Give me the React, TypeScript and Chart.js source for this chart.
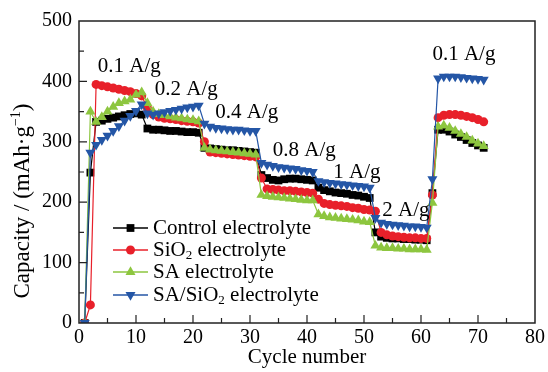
import React, { useEffect, useRef } from "react";
import { Chart, registerables } from "chart.js";
Chart.register(...registerables);

const cycles = [
  1, 2, 3, 4, 5, 6, 7, 8, 9, 10, 11, 12, 13, 14, 15, 16, 17, 18, 19, 20,
  21, 22, 23, 24, 25, 26, 27, 28, 29, 30, 31, 32, 33, 34, 35, 36, 37, 38, 39, 40,
  41, 42, 43, 44, 45, 46, 47, 48, 49, 50, 51, 52, 53, 54, 55, 56, 57, 58, 59, 60,
  61, 62, 63, 64, 65, 66, 67, 68, 69, 70, 71,
];

const controlValues = [
  0, 249, 333, 335, 338, 340, 342, 344, 346, 347, 345,
  322, 320, 320, 319, 318, 318, 317, 316, 316, 315,
  290, 289, 288, 287, 286, 286, 285, 284, 283, 282,
  245, 240, 237, 236, 238, 239, 239, 238, 237, 236,
  224, 220, 218, 216, 215, 214, 212, 211, 209, 207,
  150, 143, 141, 140, 140, 139, 139, 138, 138, 137,
  215, 320, 320, 317, 312, 308, 303, 298, 294, 290,
];

const sio2Values = [
  0, 30, 395, 393, 391, 389, 387, 385, 383, 380, 376,
  356, 345, 341, 339, 338, 337, 335, 334, 333, 331,
  300, 283, 282, 281, 280, 279, 278, 277, 276, 275,
  240, 222, 221, 220, 219, 219, 218, 217, 216, 215,
  205, 198, 196, 195, 194, 193, 191, 190, 188, 187,
  185, 150, 146, 144, 143, 142, 141, 141, 140, 140,
  212, 340, 344, 345, 345, 344, 342, 340, 337, 333,
];

const saValues = [
  0, 350, 333, 341, 350, 358, 364, 367, 370, 378, 382,
  364, 350, 346, 344, 342, 340, 339, 337, 336, 334,
  290, 287, 286, 285, 284, 283, 282, 281, 280, 279,
  212, 210, 209, 208, 207, 206, 205, 204, 203, 203,
  180, 177, 175, 174, 173, 172, 171, 170, 168, 167,
  128, 125, 124, 124, 123, 123, 122, 122, 122, 121,
  199, 325, 327, 323, 318, 313, 308, 302, 297, 293,
];

const saSio2Values = [
  0, 282, 295, 303, 310, 318, 326, 335, 343, 351, 362,
  347, 345, 347, 349, 351, 353, 355, 357, 358, 360,
  330, 325, 323, 322, 321, 320, 320, 319, 318, 318,
  265, 262, 260, 258, 257, 256, 255, 253, 252, 250,
  235, 233, 232, 231, 230, 229, 228, 227, 226, 224,
  174, 166, 164, 163, 162, 161, 160, 160, 159, 158,
  238, 405, 408, 408, 408, 407, 406, 405, 404, 403,
];

const seriesNames = [
  ["Control electrolyte"],
  ["SiO", "2", " electrolyte"],
  ["SA electrolyte"],
  ["SA/SiO", "2", " electrolyte"],
];

const rateLabels = ["0.1 A/g", "0.2 A/g", "0.4 A/g", "0.8 A/g", "1 A/g", "2 A/g", "0.1 A/g"];
const rateLabelX = [3.3, 13.3, 23.9, 34, 44.6, 53.2, 62];
const rateLabelY = [424, 386, 348, 285, 250, 186, 444];

const xTicks = [0, 10, 20, 30, 40, 50, 60, 70, 80];
const yTicks = [0, 100, 200, 300, 400, 500];

const COLORS = ["#000000", "#e8202a", "#8dc63f", "#2456a6"];
const STYLES = ["rect", "circle", "triangle", "triangle"];
const ROT = [0, 0, 0, 180];
const RADII = [5.5, 4.5, 5.8, 5.8];
const SERIF = "'Liberation Serif', 'Times New Roman', serif";

function drawMarker(ctx: CanvasRenderingContext2D, style: string, x: number, y: number, r: number, rot: number, color: string) {
  ctx.fillStyle = color;
  ctx.beginPath();
  if (style === "rect") {
    const s = Math.SQRT1_2 * r;
    ctx.rect(x - s, y - s, 2 * s, 2 * s);
  } else if (style === "circle") {
    ctx.arc(x, y, r, 0, Math.PI * 2);
  } else {
    const sgn = rot === 180 ? -1 : 1;
    const w = r * Math.sin(Math.PI / 3);
    ctx.moveTo(x, y - sgn * r);
    ctx.lineTo(x + w, y + sgn * r / 2);
    ctx.lineTo(x - w, y + sgn * r / 2);
    ctx.closePath();
  }
  ctx.fill();
}

function drawSegments(ctx: CanvasRenderingContext2D, parts: string[], x: number, y: number, size: number) {
  let cx = x;
  parts.forEach((p, i) => {
    const sub = parts.length > 1 && i === 1;
    ctx.font = `${sub ? Math.round(size * 0.62) : size}px ${SERIF}`;
    ctx.fillText(p, cx, sub ? y + size * 0.28 : y);
    cx += ctx.measureText(p).width;
  });
}

const decor = {
  id: "decor",
  afterDatasetsDraw(chart: any) {
    const { ctx, chartArea: a, scales } = chart;
    const xs = scales.x;
    const ys = scales.y;
    ctx.save();
    ctx.strokeStyle = "#222";
    ctx.lineWidth = 1.5;
    ctx.strokeRect(a.left, a.top, a.right - a.left, a.bottom - a.top);
    ctx.lineWidth = 1.2;
    ctx.beginPath();
    for (let v = 5; v < 80; v += 5) {
      const px = xs.getPixelForValue(v);
      const len = v % 10 === 0 ? 8 : 5;
      ctx.moveTo(px, a.bottom);
      ctx.lineTo(px, a.bottom - len);
    }
    for (let v = 50; v < 500; v += 50) {
      const py = ys.getPixelForValue(v);
      const len = v % 100 === 0 ? 8 : 5;
      ctx.moveTo(a.left, py);
      ctx.lineTo(a.left + len, py);
    }
    ctx.stroke();

    ctx.fillStyle = "#000";
    ctx.textBaseline = "middle";
    ctx.textAlign = "left";
    ctx.font = `21px ${SERIF}`;
    rateLabels.forEach((t, i) => {
      ctx.fillText(t, xs.getPixelForValue(rateLabelX[i]), ys.getPixelForValue(rateLabelY[i]));
    });

    const rows = [228, 250, 272, 295];
    seriesNames.forEach((parts, i) => {
      const y = rows[i];
      ctx.strokeStyle = COLORS[i];
      ctx.lineWidth = 1.3;
      ctx.beginPath();
      ctx.moveTo(113, y);
      ctx.lineTo(148, y);
      ctx.stroke();
      drawMarker(ctx, STYLES[i], 130.5, y, RADII[i], ROT[i], COLORS[i]);
      ctx.fillStyle = "#000";
      drawSegments(ctx, parts, 153, y, 21);
    });

    ctx.fillStyle = "#000";
    ctx.font = `21px ${SERIF}`;
    ctx.textAlign = "center";
    ctx.fillText("Cycle number", (a.left + a.right) / 2, 357);

    ctx.save();
    ctx.translate(23, 201);
    ctx.rotate(-Math.PI / 2);
    ctx.textAlign = "left";
    const size = 23;
    const p1 = "Capacity / (mAh\u00b7g";
    const p2 = "\u22121";
    const p3 = ")";
    ctx.font = `${size}px ${SERIF}`;
    const w1 = ctx.measureText(p1).width;
    const w3 = ctx.measureText(p3).width;
    ctx.font = `${Math.round(size * 0.62)}px ${SERIF}`;
    const w2 = ctx.measureText(p2).width;
    let sx = -(w1 + w2 + w3) / 2;
    ctx.font = `${size}px ${SERIF}`;
    ctx.fillText(p1, sx, 0);
    sx += w1;
    ctx.font = `${Math.round(size * 0.62)}px ${SERIF}`;
    ctx.fillText(p2, sx, -size * 0.3);
    sx += w2;
    ctx.font = `${size}px ${SERIF}`;
    ctx.fillText(p3, sx, 0);
    ctx.restore();

    ctx.restore();
  },
};

export default function App() {
  const ref = useRef<HTMLCanvasElement>(null);
  useEffect(() => {
    document.body.style.margin = "0";
    let chart: Chart | null = null;
    let cancelled = false;
    const build = () => {
      if (cancelled) return;
      const canvas = ref.current!;
      const all = [controlValues, sio2Values, saValues, saSio2Values];
      const labels = ["Control electrolyte", "SiO2 electrolyte", "SA electrolyte", "SA/SiO2 electrolyte"];
      chart = new Chart(canvas, {
        type: "line",
        data: {
          datasets: all.map((vals, i) => ({
            label: labels[i],
            data: cycles.map((c, k) => ({ x: c, y: vals[k] })),
            borderColor: COLORS[i],
            backgroundColor: COLORS[i],
            borderWidth: 1.2,
            pointStyle: STYLES[i] as any,
            pointRotation: ROT[i],
            pointRadius: RADII[i],
            pointBorderWidth: 0,
            pointBackgroundColor: COLORS[i],
            tension: 0,
            order: 4 - i,
          })),
        },
        options: {
          responsive: false,
          animation: false,
          layout: { padding: { top: 21, right: 13, left: 0, bottom: 0 } },
          plugins: { legend: { display: false }, tooltip: { enabled: false } },
          scales: {
            x: {
              type: "linear",
              min: 0,
              max: 80,
              afterBuildTicks: (s: any) => { s.ticks = xTicks.map((v) => ({ value: v })); },
              ticks: { color: "#000", font: { family: SERIF, size: 20 }, padding: 3, maxRotation: 0, autoSkip: false },
              grid: { display: false, drawTicks: false },
              border: { display: false },
              afterFit: (s: any) => { s.height = 49; },
            },
            y: {
              type: "linear",
              min: 0,
              max: 500,
              afterBuildTicks: (s: any) => { s.ticks = yTicks.map((v) => ({ value: v })); },
              ticks: { color: "#000", font: { family: SERIF, size: 20 }, padding: 7 },
              grid: { display: false, drawTicks: false },
              border: { display: false },
              afterFit: (s: any) => { s.width = 79; },
            },
          },
        },
        plugins: [decor],
      });
    };
    const fonts = (document as any).fonts;
    if (fonts && fonts.load) {
      Promise.all([
        fonts.load("21px 'Liberation Serif'"),
        fonts.load("13px 'Liberation Serif'"),
      ]).then(build, build);
    } else {
      build();
    }
    return () => {
      cancelled = true;
      if (chart) chart.destroy();
    };
  }, []);
  return (
    <div style={{ width: 548, height: 372 }}>
      <canvas ref={ref} width={548} height={372} />
    </div>
  );
}
